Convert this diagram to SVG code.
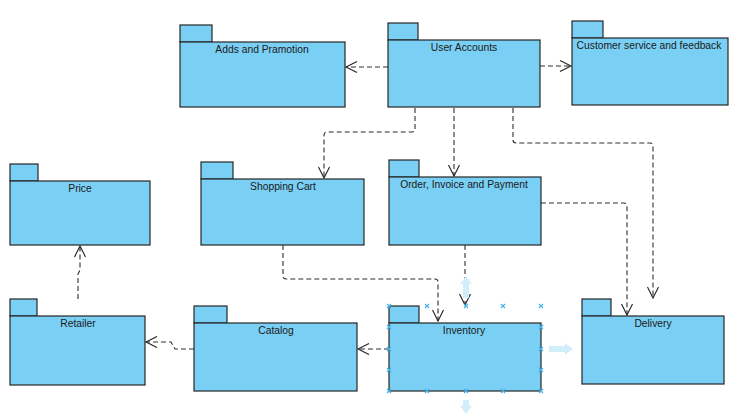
<svg xmlns="http://www.w3.org/2000/svg" width="742" height="417" viewBox="0 0 742 417">
<defs>
<style>
.pkg rect{fill:#7acff4;stroke:#262626;stroke-width:1.2}
.pkg text{font-family:"Liberation Sans",Arial,sans-serif;font-size:10.3px;fill:#1a1a1a;text-anchor:middle}
.dep{fill:none;stroke:#2e2e2e;stroke-width:1.1;stroke-dasharray:5,3}
.hint{fill:#d3eefb;stroke:none}
.h{stroke:#3fb2ea;stroke-width:1.1;fill:none}
</style>
<marker id="open" viewBox="-13 -7 15 14" refX="0" refY="0" markerWidth="15" markerHeight="14" markerUnits="userSpaceOnUse" orient="auto">
<path d="M-11,-5.5 L0,0 L-11,5.5" fill="none" stroke="#222" stroke-width="1.1" stroke-dasharray="none"/>
</marker>
</defs>
<rect width="742" height="417" fill="#ffffff"/>

<g id="connectors">
<path class="dep" d="M388,67 H346" marker-end="url(#open)"/>
<path class="dep" d="M540,66 H571" marker-end="url(#open)"/>
<path class="dep" d="M415,108 V129 Q415,132 412,132 H327 Q324,132 324,135 V178" marker-end="url(#open)"/>
<path class="dep" d="M454,108 V176" marker-end="url(#open)"/>
<path class="dep" d="M513,108 V140 Q513,143 516,143 H650 Q653,143 653,146 V298" marker-end="url(#open)"/>
<path class="dep" d="M541,203 H624 Q627,203 627,206 V315" marker-end="url(#open)"/>
<path class="dep" d="M465,245 V305" marker-end="url(#open)"/>
<path class="dep" d="M283,245 V276 Q283,279 286,279 H435 Q438,279 438,282 V321" marker-end="url(#open)"/>
<path class="dep" d="M389,349 H358" marker-end="url(#open)"/>
<path class="dep" d="M194,349 H175 L171,342 H146" marker-end="url(#open)"/>
<path class="dep" d="M78,299 V274 L80,270 V246" marker-end="url(#open)"/>
</g>

<g id="adds" class="pkg">
<rect x="180" y="25" width="32" height="17"/><rect x="180" y="42" width="165" height="65"/>
<text x="262" y="53">Adds and Pramotion</text>
</g>
<g id="user-accounts" class="pkg">
<rect x="388" y="23" width="30" height="17"/><rect x="388" y="40" width="152" height="67"/>
<text x="464" y="51">User Accounts</text>
</g>
<g id="customer-service" class="pkg">
<rect x="572" y="21" width="31" height="17"/><rect x="572" y="38" width="156" height="67"/>
<text x="649" y="49">Customer service and feedback</text>
</g>
<g id="price" class="pkg">
<rect x="10" y="164" width="28" height="17"/><rect x="10" y="181" width="140" height="64"/>
<text x="80" y="192">Price</text>
</g>
<g id="shopping-cart" class="pkg">
<rect x="201" y="162" width="32" height="17"/><rect x="201" y="179" width="163" height="66"/>
<text x="283" y="190">Shopping Cart</text>
</g>
<g id="order" class="pkg">
<rect x="389" y="160" width="30" height="17"/><rect x="389" y="177" width="152" height="68"/>
<text x="464" y="188">Order, Invoice and Payment</text>
</g>
<g id="retailer" class="pkg">
<rect x="10" y="299" width="27" height="17"/><rect x="10" y="316" width="135" height="69"/>
<text x="78" y="327">Retailer</text>
</g>
<g id="catalog" class="pkg">
<rect x="194" y="306" width="33" height="17"/><rect x="194" y="323" width="163" height="68"/>
<text x="276" y="334">Catalog</text>
</g>
<g id="inventory" class="pkg">
<rect x="389" y="306" width="30" height="17"/><rect x="389" y="323" width="152" height="68"/>
<text x="464" y="334">Inventory</text>
</g>
<g id="delivery" class="pkg">
<rect x="582" y="299" width="29" height="17"/><rect x="582" y="316" width="142" height="68"/>
<text x="653" y="327">Delivery</text>
</g>

<g id="selection">
<polygon class="hint" points="466,276 472,284 469,284 469,298 463,298 463,284 460,284"/>
<polygon class="hint" points="573,349 565,355 565,352 549,352 549,346 565,346 565,343"/>
<polygon class="hint" points="466,414 460,406 463,406 463,400 469,400 469,406 472,406"/>
<path class="h" d="M387,304l4,4m0,-4l-4,4M425,304l4,4m0,-4l-4,4M464,304l4,4m0,-4l-4,4M501,304l4,4m0,-4l-4,4M539,304l4,4m0,-4l-4,4
M387,325l4,4m0,-4l-4,4M539,325l4,4m0,-4l-4,4M387,347l4,4m0,-4l-4,4M539,347l4,4m0,-4l-4,4M387,368l4,4m0,-4l-4,4M539,368l4,4m0,-4l-4,4
M387,389l4,4m0,-4l-4,4M425,389l4,4m0,-4l-4,4M464,389l4,4m0,-4l-4,4M501,389l4,4m0,-4l-4,4M539,389l4,4m0,-4l-4,4"/>
</g>
</svg>
